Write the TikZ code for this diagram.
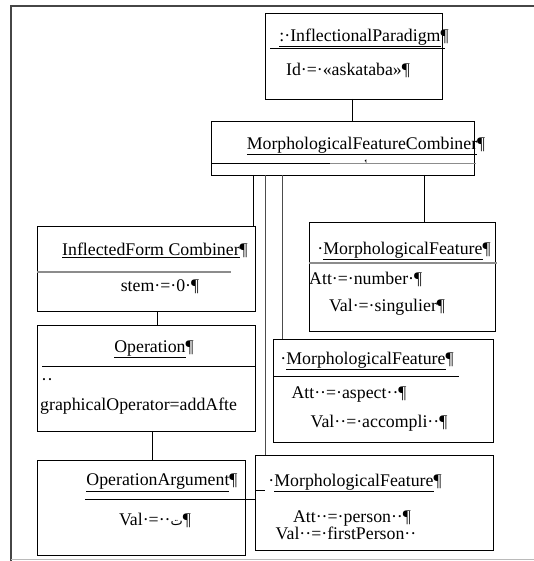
\documentclass[tikz,border=0pt]{standalone}
\usepackage{fontspec}
\setmainfont{Liberation Serif}
\newfontfamily\arabicfont[Script=Arabic]{DejaVu Sans}
\TeXXeTstate=1
\usepackage{tikz}
\definecolor{framegray}{RGB}{70, 70, 70}
\definecolor{rulegray}{RGB}{140, 140, 140}
\tikzset{
  objbox/.style = {draw, rectangle, line width=0.9pt, inner sep=0pt,
    outer sep=0pt, anchor=north west},% boite objet UML
  objtxt/.style = {inner sep=0pt, font=\fontsize{17.8}{19}\selectfont},% texte
  objhdr/.style = {objtxt},% titre souligne
  objsep/.style = {line width=0.9pt},% trait de separation
  objlink/.style = {line width=0.9pt},% lien entre objets
}

\begin{document}
\begin{tikzpicture}[x=1pt, y=-1pt]
\useasboundingbox (0,0) rectangle (534,561);
% cadre de la page
\draw[framegray, line width=1.6pt] (534,6) -- (11,6) -- (11,561);
\draw[rulegray!60, line width=0.8pt] (11,559) -- (534,559);

% boites
\node [objbox, minimum width=177, minimum height=86] (ip) at (265,13) {};
\node [objbox, minimum width=263, minimum height=54] (mfc) at (211,121) {};
\node [objbox, minimum width=218, minimum height=85] (ifc) at (37,226) {};
\node [objbox, minimum width=218, minimum height=106] (op) at (37,325) {};
\node [objbox, minimum width=208, minimum height=95] (oa) at (37,460) {};
\node [objbox, minimum width=186, minimum height=109] (mf1) at (309,222) {};
\node [objbox, minimum width=220, minimum height=103] (mf2) at (273,339) {};
\node [objbox, minimum width=238, minimum height=95] (mf3) at (255,455) {};

% textes
\node [objhdr] (iph) at (364,38) {\underline{:·InflectionalParadigm}¶};
\node [objtxt] (ipa) at (348,70) {Id·=·«askataba»¶};
\node [objhdr] (mfch) at (366,146) {\underline{MorphologicalFeatureCombiner}¶};
\node [objtxt, font=\tiny] (mfcp) at (366,162) {¶};
\node [objhdr] (ifch) at (155,250) {\underline{InflectedForm Combiner}¶};
\node [objtxt] (ifca) at (160,287) {stem·=·0·¶};
\node [objhdr] (oph) at (154,349) {\underline{Operation}¶};
\node [objtxt, anchor=west] (opd) at (41,382) {··};
\node [objtxt, anchor=west] (opa) at (40,406) {graphicalOperator=addAfte};
\node [objhdr] (oah) at (162,483) {\underline{OperationArgument}¶};
\node [objtxt] (oaa) at (155,520) {Val·=··{\arabicfont\fontsize{13}{15}\selectfont\beginR ت\endR}¶};
\node [objhdr] (mf1h) at (404,251) {·\underline{MorphologicalFeature}¶};
\node [objtxt, anchor=west] (mf1a) at (309,279) {Att·=·number·¶};
\node [objtxt] (mf1b) at (387,307) {Val·=·singulier¶};
\node [objhdr] (mf2h) at (367,361) {·\underline{MorphologicalFeature}¶};
\node [objtxt] (mf2a) at (349,395) {Att··=·aspect··¶};
\node [objtxt] (mf2b) at (379,423) {Val··=·accompli··¶};
\node [objhdr] (mf3h) at (355,483) {·\underline{MorphologicalFeature}¶};
\node [objtxt] (mf3a) at (352,519) {Att··=·person··¶};
\node [objtxt] (mf3b) at (346,533) {Val··=·firstPerson··};

% traits de separation
\draw [objsep] (270,48) -- (445,48);
\draw [objsep] (211,163) -- (330,163);
\draw [objsep, rulegray] (330,163) -- (476,163);
\draw [objsep, rulegray, line width=1.6pt] (37,272) -- (231,272);
\draw [objsep] (42,366) -- (255,366);
\draw [objsep] (85,499) -- (255,499);
\draw [objsep] (255,490) -- (265,490);
\draw [objsep, rulegray, line width=1.6pt] (309,263) -- (497,263);
\draw [objsep] (273,376) -- (459,376);

% liens
\coordinate (xip) at (352,0);
\coordinate (xifc) at (253,0);
\coordinate (xmf3) at (265,0);
\coordinate (xmf2) at (282,0);
\coordinate (xmf1) at (424,0);
\coordinate (xop) at (157,0);
\coordinate (xoa) at (152,0);
\draw [objlink] (ip.south -| xip) -- (mfc.north -| xip);
\draw [objlink] (mfc.south -| xifc) -- (ifc.north -| xifc);
\draw [objlink, black!70] (mfc.south -| xmf3) -- (mf3.north -| xmf3);
\draw [objlink, black!70] (mfc.south -| xmf2) -- (mf2.north -| xmf2);
\draw [objlink] (mfc.south -| xmf1) -- (mf1.north -| xmf1);
\draw [objlink] (ifc.south -| xop) -- (op.north -| xop);
\draw [objlink] (op.south -| xoa) -- (oa.north -| xoa);
\end{tikzpicture}
\end{document}
